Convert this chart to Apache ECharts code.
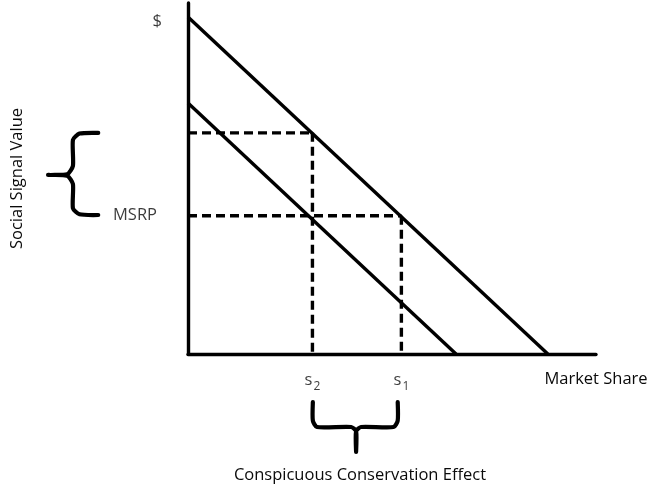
<!DOCTYPE html>
<html>
<head>
<meta charset="utf-8">
<script src="https://cdn.jsdelivr.net/npm/echarts@6/dist/echarts.min.js"></script>
<style>
  html, body { margin: 0; padding: 0; background: #fff; }
  #chart { width: 648px; height: 489px; }
</style>
</head>
<body>
<div id="chart"></div>
<script>
// demand curves, [market share, price]
const originalDemand = [[0, 96], [88.2, 0]];
const shiftedDemand = [[0, 71.5], [65.7, 0]];

// market share points and price levels
const shareS1 = 52.3;
const shareS2 = 30.5;
const msrp = 39.4;
const signalPrice = 63;
const dollarLevel = 94.9;

// brace outlines
const leftBrace = [
  [-22, 63], [-26.6, 62.8], [-28.2, 61], [-28.2, 53.6], [-29.6, 51.2], [-34.3, 51],
  [-29.6, 50.8], [-28.2, 48.4], [-28.2, 41.5], [-26.6, 39.8], [-22, 39.6]
];
const bottomBrace = [
  [30.6, -13.7], [30.6, -19], [31.6, -20.8], [40, -20.8], [41.2, -22], [41.2, -27.9],
  [41.2, -22], [42.4, -20.8], [50.4, -20.8], [51.4, -19], [51.4, -13.7]
];

const FONT = "Open Sans";
const FS = 16.5;
const INK = "#0a0a0a";

const solid = (data) => ({
  type: "line",
  data: data,
  symbol: "none",
  silent: true,
  lineStyle: { color: "#000", width: 3.4 }
});

const dashed = (data) => ({
  type: "line",
  data: data,
  symbol: "none",
  silent: true,
  lineStyle: { color: "#000", width: 3.4, type: [9, 5] }
});

// braces sit outside the plot, so draw them through a custom series
const brace = (points) => ({
  type: "custom",
  data: [0],
  silent: true,
  clip: false,
  renderItem: (params, api) => ({
    type: "polyline",
    shape: { points: points.map((p) => api.coord(p)), smooth: 0.2 },
    style: { stroke: "#000", fill: null, lineWidth: 4.2, lineJoin: "round", lineCap: "round" }
  })
});

const label = (point, text, position, distance, rich) => ({
  type: "scatter",
  data: [point],
  symbolSize: 0,
  silent: true,
  clip: false,
  label: {
    show: true,
    formatter: text,
    position: position,
    distance: distance,
    color: INK,
    fontFamily: FONT,
    fontSize: FS,
    rich: rich
  }
});

const subRich = {
  b: { fontFamily: FONT, fontSize: FS, color: INK },
  s: { fontFamily: FONT, fontSize: 12, color: INK, padding: [13, 0, 0, 1] }
};

const chart = echarts.init(document.getElementById("chart"));

chart.setOption({
  animation: false,
  backgroundColor: "#fff",
  title: {
    text: "Conspicuous Conservation Effect",
    left: 355,
    top: 462,
    textAlign: "center",
    textStyle: { fontFamily: FONT, fontSize: FS, fontWeight: "normal", color: INK }
  },
  grid: { left: 188, right: 52, top: 3, bottom: 135, outerBoundsMode: "none" },
  xAxis: {
    type: "value",
    min: 0,
    max: 100,
    name: "Market Share",
    nameLocation: "end",
    nameGap: 0,
    nameTextStyle: {
      fontFamily: FONT, fontSize: FS, color: INK,
      align: "center", verticalAlign: "top", padding: [17, 0, 0, 0]
    },
    axisLine: { lineStyle: { color: "#000", width: 3.4 } },
    axisTick: { show: false },
    axisLabel: { show: false },
    splitLine: { show: false }
  },
  yAxis: {
    type: "value",
    min: 0,
    max: 100,
    name: "Social Signal Value",
    nameLocation: "middle",
    nameRotate: 90,
    nameGap: 162,
    nameTextStyle: { fontFamily: FONT, fontSize: FS, color: INK },
    axisLine: { show: true, lineStyle: { color: "#000", width: 3.4 } },
    axisTick: { show: false },
    axisLabel: { show: false },
    splitLine: { show: false }
  },
  series: [
    solid(originalDemand),
    solid(shiftedDemand),
    dashed([[0, signalPrice], [shareS2, signalPrice]]),
    dashed([[0, msrp], [shareS1, msrp]]),
    dashed([[shareS2, signalPrice], [shareS2, 0]]),
    dashed([[shareS1, msrp], [shareS1, 0]]),
    brace(leftBrace),
    brace(bottomBrace),
    label([0, dollarLevel], "$", "left", 26),
    label([0, msrp], "MSRP", "left", 31),
    label([shareS2, 0], "{b|s}{s|2}", "bottom", 14, subRich),
    label([shareS1, 0], "{b|s}{s|1}", "bottom", 14, subRich)
  ]
});
</script>
</body>
</html>
